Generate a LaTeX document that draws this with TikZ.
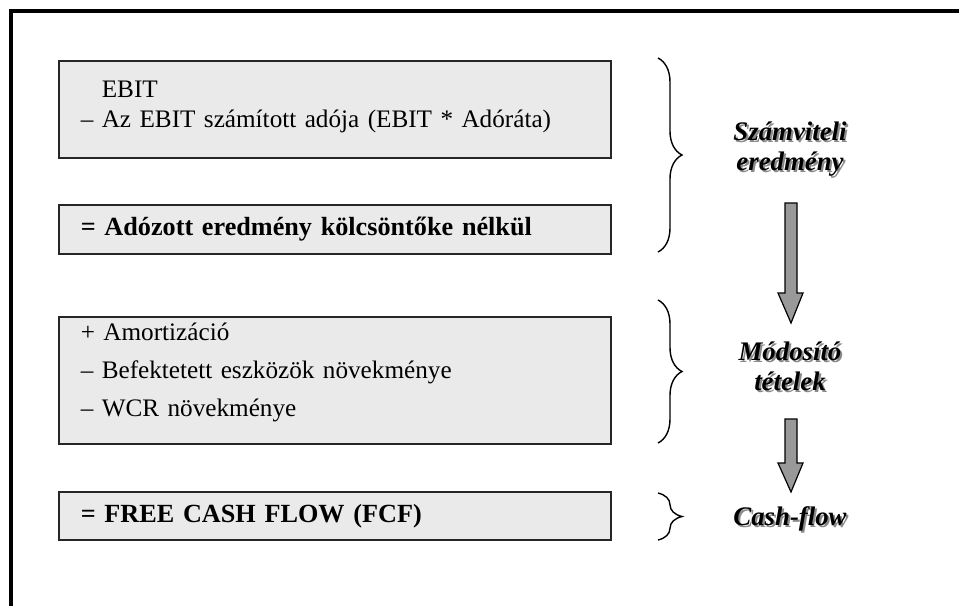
\documentclass[tikz,border=0pt]{standalone}
\usepackage{fontspec}
\setmainfont{Liberation Serif}
\usetikzlibrary{decorations.pathreplacing}
\definecolor{boxgray}{HTML}{EAEAEA}
\definecolor{arrowgray}{HTML}{999999}
\definecolor{shadowgray}{HTML}{8A8A8A}
\newcommand{\shadowlabel}[3]{%
  \node[sidelabel, text=shadowgray, xshift=1pt, yshift=-1pt] at #2 {#3};
  \node[sidelabel] (#1) at #2 {#3};}
\begin{document}
\begin{tikzpicture}[x=0.5pt, y=-0.5pt,
    box/.style={draw=black!85, line width=0.8pt, fill=boxgray, anchor=north west,
      minimum width=276pt, text width=254pt, inner xsep=11pt, inner ysep=0pt, align=left,
      font=\fontsize{12.6}{15}\selectfont},
    boldbox/.style={box, font=\fontsize{13.1}{15}\selectfont\bfseries},
    sidelabel/.style={align=center, font=\fontsize{13.4}{15}\selectfont\bfseries\itshape},
    bracket/.style={decorate, decoration={brace, amplitude=12pt}, line width=0.7pt},
    blockarrow/.style={draw=black, line width=0.6pt, fill=arrowgray}
]
    \useasboundingbox (0,0) rectangle (959,606);
    % frame
    \draw[line width=2pt] (959,11) -- (11,11) -- (11,606);

    % boxes
    \node[box, minimum height=48.5pt, text depth=20pt] (ebit) at (58,60)
        {\hphantom{– }EBIT\\– Az EBIT számított adója (EBIT * Adóráta)};
    \node[boldbox, minimum height=24.5pt] (nopat) at (58,204)
        {= Adózott eredmény kölcsöntőke nélkül};
    \node[box, minimum height=63.5pt, text depth=49pt, font=\fontsize{12.6}{19}\selectfont] (adjust) at (58,316)
        {+ Amortizáció\\– Befektetett eszközök növekménye\\– WCR növekménye};
    \node[boldbox, minimum height=24pt] (fcf) at (58,491)
        {= FREE CASH FLOW (FCF)};

    % braces
    \draw[bracket] (658,58) -- (658,252);
    \draw[bracket] (658,300) -- (658,443);
    \draw[bracket] (658,493) -- (658,540);

    % side labels
    \shadowlabel{accounting}{(790,149)}{Számviteli\\eredmény}
    \shadowlabel{modifying}{(790,366)}{Módosító\\tételek}
    \shadowlabel{cashflow}{(790,519)}{Cash-flow}

    % block arrows
    \foreach \top/\head/\tip in {203/293/323, 419/463/492}
        \draw[blockarrow] (785,\top) -- (797,\top) -- (797,\head) -- (803,\head)
            -- (791,\tip) -- (778,\head) -- (785,\head) -- cycle;
\end{tikzpicture}
\end{document}
